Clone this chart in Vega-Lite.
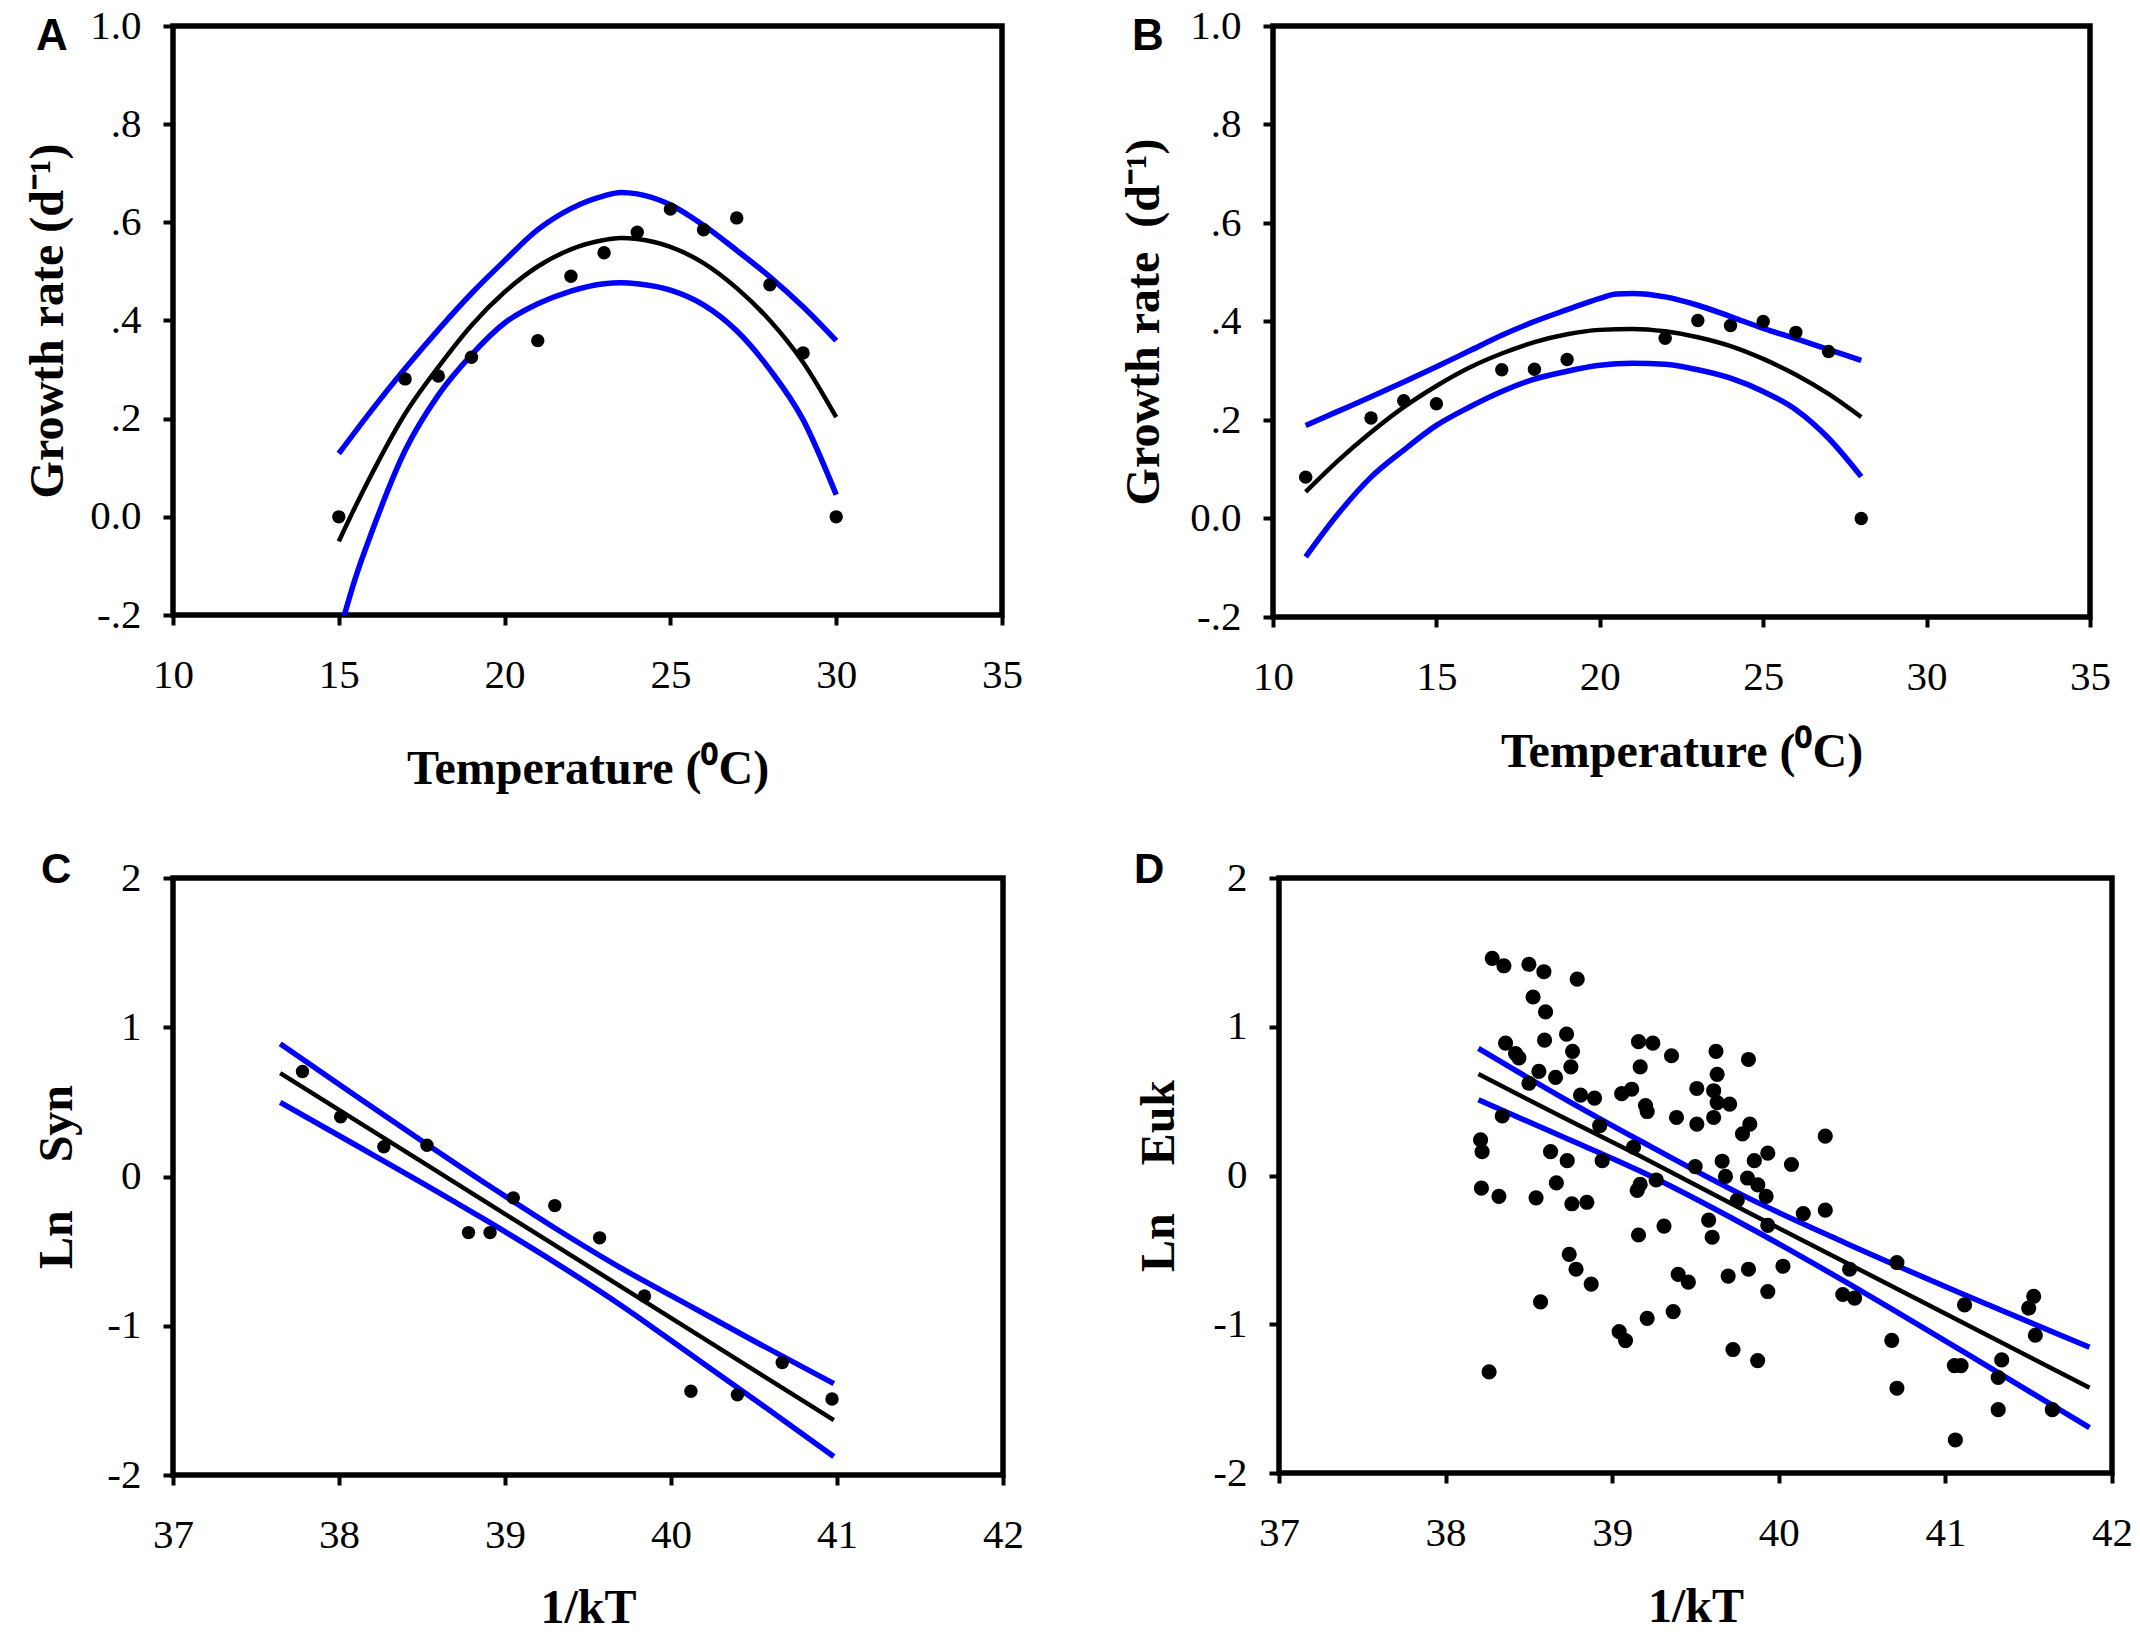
{
  "$schema": "https://vega.github.io/schema/vega-lite/v6.json",
  "background": "white",
  "padding": {"left": 22, "top": 2, "right": 5, "bottom": 0},
  "datasets": {
    "A_pts": [
      {"x": 15, "y": 0}, {"x": 17, "y": 0.281}, {"x": 18, "y": 0.287}, {"x": 19, "y": 0.325},
      {"x": 21, "y": 0.359}, {"x": 22, "y": 0.49}, {"x": 23, "y": 0.538}, {"x": 24, "y": 0.58},
      {"x": 25, "y": 0.627}, {"x": 26, "y": 0.585}, {"x": 27, "y": 0.609}, {"x": 28, "y": 0.473},
      {"x": 29, "y": 0.334}, {"x": 30, "y": 0}
    ],
    "A_fit": [
      {"x": 15, "y": -0.05}, {"x": 15.5, "y": 0.021}, {"x": 16, "y": 0.088}, {"x": 17, "y": 0.21},
      {"x": 18, "y": 0.305}, {"x": 19, "y": 0.39}, {"x": 20, "y": 0.458}, {"x": 21, "y": 0.51},
      {"x": 22, "y": 0.545}, {"x": 23, "y": 0.564}, {"x": 23.5, "y": 0.568}, {"x": 24, "y": 0.566},
      {"x": 25, "y": 0.55}, {"x": 26, "y": 0.517}, {"x": 27, "y": 0.466}, {"x": 28, "y": 0.4},
      {"x": 29, "y": 0.315}, {"x": 30, "y": 0.203}
    ],
    "A_ci": [
      {"x": 15, "y": 0.129, "b": "u"}, {"x": 16, "y": 0.218, "b": "u"}, {"x": 17, "y": 0.302, "b": "u"},
      {"x": 18, "y": 0.381, "b": "u"}, {"x": 19, "y": 0.455, "b": "u"}, {"x": 20, "y": 0.522, "b": "u"},
      {"x": 21, "y": 0.585, "b": "u"}, {"x": 22, "y": 0.628, "b": "u"}, {"x": 23, "y": 0.654, "b": "u"},
      {"x": 23.5, "y": 0.661, "b": "u"}, {"x": 24, "y": 0.658, "b": "u"}, {"x": 25, "y": 0.636, "b": "u"},
      {"x": 26, "y": 0.594, "b": "u"}, {"x": 27, "y": 0.543, "b": "u"}, {"x": 28, "y": 0.489, "b": "u"},
      {"x": 29, "y": 0.428, "b": "u"}, {"x": 30, "y": 0.359, "b": "u"},
      {"x": 15, "y": -0.24, "b": "l"}, {"x": 15.5, "y": -0.125, "b": "l"}, {"x": 16, "y": -0.03, "b": "l"},
      {"x": 17, "y": 0.135, "b": "l"}, {"x": 18, "y": 0.248, "b": "l"}, {"x": 19, "y": 0.33, "b": "l"},
      {"x": 20, "y": 0.395, "b": "l"}, {"x": 21, "y": 0.434, "b": "l"}, {"x": 22, "y": 0.46, "b": "l"},
      {"x": 23, "y": 0.475, "b": "l"}, {"x": 23.5, "y": 0.477, "b": "l"}, {"x": 24, "y": 0.475, "b": "l"},
      {"x": 25, "y": 0.462, "b": "l"}, {"x": 26, "y": 0.432, "b": "l"}, {"x": 27, "y": 0.379, "b": "l"},
      {"x": 28, "y": 0.3, "b": "l"}, {"x": 29, "y": 0.198, "b": "l"}, {"x": 30, "y": 0.045, "b": "l"}
    ],
    "B_pts": [
      {"x": 11, "y": 0.084}, {"x": 13, "y": 0.204}, {"x": 14, "y": 0.239}, {"x": 15, "y": 0.233},
      {"x": 17, "y": 0.302}, {"x": 18, "y": 0.303}, {"x": 19, "y": 0.323}, {"x": 22, "y": 0.366},
      {"x": 23, "y": 0.402}, {"x": 24, "y": 0.392}, {"x": 25, "y": 0.4}, {"x": 26, "y": 0.378},
      {"x": 27, "y": 0.339}, {"x": 28, "y": 0}
    ],
    "B_fit": [
      {"x": 11, "y": 0.054}, {"x": 12, "y": 0.118}, {"x": 13, "y": 0.175}, {"x": 14, "y": 0.226},
      {"x": 15, "y": 0.269}, {"x": 16, "y": 0.306}, {"x": 17, "y": 0.335}, {"x": 18, "y": 0.358},
      {"x": 19, "y": 0.374}, {"x": 20, "y": 0.383}, {"x": 21, "y": 0.385}, {"x": 22, "y": 0.38},
      {"x": 23, "y": 0.368}, {"x": 24, "y": 0.35}, {"x": 25, "y": 0.324}, {"x": 26, "y": 0.292},
      {"x": 27, "y": 0.253}, {"x": 28, "y": 0.206}
    ],
    "B_ci": [
      {"x": 11, "y": 0.189, "b": "u"}, {"x": 12, "y": 0.218, "b": "u"}, {"x": 13, "y": 0.247, "b": "u"},
      {"x": 14, "y": 0.277, "b": "u"}, {"x": 15, "y": 0.308, "b": "u"}, {"x": 16, "y": 0.34, "b": "u"},
      {"x": 17, "y": 0.372, "b": "u"}, {"x": 18, "y": 0.4, "b": "u"}, {"x": 19, "y": 0.424, "b": "u"},
      {"x": 20, "y": 0.447, "b": "u"}, {"x": 20.5, "y": 0.456, "b": "u"}, {"x": 21, "y": 0.457, "b": "u"},
      {"x": 22, "y": 0.45, "b": "u"}, {"x": 23, "y": 0.433, "b": "u"}, {"x": 24, "y": 0.41, "b": "u"},
      {"x": 25, "y": 0.386, "b": "u"}, {"x": 26, "y": 0.365, "b": "u"}, {"x": 27, "y": 0.343, "b": "u"},
      {"x": 28, "y": 0.321, "b": "u"},
      {"x": 11, "y": -0.078, "b": "l"}, {"x": 12, "y": 0.01, "b": "l"}, {"x": 13, "y": 0.084, "b": "l"},
      {"x": 14, "y": 0.139, "b": "l"}, {"x": 15, "y": 0.189, "b": "l"}, {"x": 16, "y": 0.226, "b": "l"},
      {"x": 17, "y": 0.258, "b": "l"}, {"x": 18, "y": 0.283, "b": "l"}, {"x": 19, "y": 0.299, "b": "l"},
      {"x": 20, "y": 0.311, "b": "l"}, {"x": 21, "y": 0.315, "b": "l"}, {"x": 22, "y": 0.313, "b": "l"},
      {"x": 23, "y": 0.302, "b": "l"}, {"x": 24, "y": 0.285, "b": "l"}, {"x": 25, "y": 0.258, "b": "l"},
      {"x": 26, "y": 0.221, "b": "l"}, {"x": 27, "y": 0.163, "b": "l"}, {"x": 28, "y": 0.085, "b": "l"}
    ],
    "C_pts": [
      {"x": 37.78, "y": 0.704}, {"x": 38.01, "y": 0.4}, {"x": 38.27, "y": 0.199}, {"x": 38.53, "y": 0.209},
      {"x": 38.78, "y": -0.376}, {"x": 38.91, "y": -0.376}, {"x": 39.05, "y": -0.143}, {"x": 39.3, "y": -0.195},
      {"x": 39.57, "y": -0.411}, {"x": 39.84, "y": -0.801}, {"x": 40.12, "y": -1.439}, {"x": 40.4, "y": -1.463},
      {"x": 40.67, "y": -1.247}, {"x": 40.97, "y": -1.491}
    ],
    "C_fit": [
      {"x": 37.646, "y": 0.693}, {"x": 38.5, "y": 0.098}, {"x": 39.3, "y": -0.46}, {"x": 40.1, "y": -1.018},
      {"x": 40.981, "y": -1.632}
    ],
    "C_ci": [
      {"x": 37.646, "y": 0.889, "b": "u"}, {"x": 38.1, "y": 0.541, "b": "u"}, {"x": 38.5, "y": 0.238, "b": "u"},
      {"x": 38.9, "y": -0.059, "b": "u"}, {"x": 39.3, "y": -0.345, "b": "u"}, {"x": 39.7, "y": -0.614, "b": "u"},
      {"x": 40.1, "y": -0.858, "b": "u"}, {"x": 40.5, "y": -1.102, "b": "u"}, {"x": 40.981, "y": -1.388, "b": "u"},
      {"x": 37.646, "y": 0.497, "b": "l"}, {"x": 38.1, "y": 0.211, "b": "l"}, {"x": 38.5, "y": -0.042, "b": "l"},
      {"x": 38.9, "y": -0.303, "b": "l"}, {"x": 39.3, "y": -0.575, "b": "l"}, {"x": 39.7, "y": -0.864, "b": "l"},
      {"x": 40.1, "y": -1.178, "b": "l"}, {"x": 40.5, "y": -1.492, "b": "l"}, {"x": 40.981, "y": -1.876, "b": "l"}
    ],
    "D_pts": [
      {"x": 38.28, "y": 1.46}, {"x": 38.35, "y": 1.41}, {"x": 38.5, "y": 1.42}, {"x": 38.59, "y": 1.37},
      {"x": 38.79, "y": 1.32}, {"x": 38.525, "y": 1.2}, {"x": 38.6, "y": 1.1}, {"x": 38.36, "y": 0.89},
      {"x": 38.42, "y": 0.82}, {"x": 38.44, "y": 0.79}, {"x": 38.594, "y": 0.91}, {"x": 38.726, "y": 0.95},
      {"x": 38.762, "y": 0.835}, {"x": 38.752, "y": 0.73}, {"x": 38.66, "y": 0.66}, {"x": 38.56, "y": 0.7},
      {"x": 38.5, "y": 0.62}, {"x": 38.34, "y": 0.4}, {"x": 38.81, "y": 0.54}, {"x": 38.894, "y": 0.52},
      {"x": 38.925, "y": 0.335}, {"x": 39.057, "y": 0.55}, {"x": 39.117, "y": 0.58}, {"x": 39.158, "y": 0.9},
      {"x": 39.168, "y": 0.73}, {"x": 39.2, "y": 0.47}, {"x": 39.21, "y": 0.43}, {"x": 39.128, "y": 0.19},
      {"x": 38.21, "y": 0.24}, {"x": 38.219, "y": 0.16}, {"x": 38.63, "y": 0.16}, {"x": 38.73, "y": 0.1},
      {"x": 38.94, "y": 0.1}, {"x": 38.215, "y": -0.085}, {"x": 38.32, "y": -0.14}, {"x": 38.665, "y": -0.05},
      {"x": 38.543, "y": -0.15}, {"x": 38.758, "y": -0.19}, {"x": 38.848, "y": -0.18}, {"x": 39.168, "y": -0.06},
      {"x": 39.15, "y": -0.1}, {"x": 39.264, "y": -0.03}, {"x": 39.158, "y": -0.4}, {"x": 38.742, "y": -0.53},
      {"x": 38.783, "y": -0.63}, {"x": 38.874, "y": -0.73}, {"x": 38.57, "y": -0.85}, {"x": 39.21, "y": -0.96},
      {"x": 39.042, "y": -1.05}, {"x": 39.08, "y": -1.11}, {"x": 38.261, "y": -1.32}, {"x": 39.244, "y": 0.89},
      {"x": 39.356, "y": 0.805}, {"x": 39.623, "y": 0.835}, {"x": 39.818, "y": 0.78}, {"x": 39.63, "y": 0.68},
      {"x": 39.508, "y": 0.585}, {"x": 39.609, "y": 0.57}, {"x": 39.63, "y": 0.49}, {"x": 39.705, "y": 0.48},
      {"x": 39.386, "y": 0.39}, {"x": 39.508, "y": 0.345}, {"x": 39.609, "y": 0.39}, {"x": 39.782, "y": 0.28},
      {"x": 39.826, "y": 0.345}, {"x": 40.279, "y": 0.265}, {"x": 39.934, "y": 0.15}, {"x": 39.853, "y": 0.1},
      {"x": 40.076, "y": 0.074}, {"x": 39.66, "y": 0.096}, {"x": 39.498, "y": 0.06}, {"x": 39.68, "y": -0.006},
      {"x": 39.812, "y": -0.017}, {"x": 39.874, "y": -0.063}, {"x": 39.924, "y": -0.14}, {"x": 39.751, "y": -0.165},
      {"x": 40.147, "y": -0.256}, {"x": 40.279, "y": -0.233}, {"x": 39.934, "y": -0.335}, {"x": 39.579, "y": -0.3},
      {"x": 39.6, "y": -0.415}, {"x": 39.311, "y": -0.34}, {"x": 39.396, "y": -0.665}, {"x": 39.457, "y": -0.717},
      {"x": 39.696, "y": -0.676}, {"x": 39.818, "y": -0.63}, {"x": 40.025, "y": -0.61}, {"x": 39.934, "y": -0.78},
      {"x": 39.366, "y": -0.915}, {"x": 39.725, "y": -1.17}, {"x": 39.873, "y": -1.244}, {"x": 40.425, "y": -0.63},
      {"x": 40.709, "y": -0.585}, {"x": 40.384, "y": -0.8}, {"x": 40.455, "y": -0.824}, {"x": 40.678, "y": -1.108},
      {"x": 40.709, "y": -1.43}, {"x": 41.115, "y": -0.87}, {"x": 41.054, "y": -1.278}, {"x": 41.094, "y": -1.278},
      {"x": 41.06, "y": -1.778}, {"x": 41.317, "y": -1.574}, {"x": 41.53, "y": -0.812}, {"x": 41.5, "y": -0.892},
      {"x": 41.54, "y": -1.074}, {"x": 41.338, "y": -1.24}, {"x": 41.317, "y": -1.358}, {"x": 41.642, "y": -1.574}
    ],
    "D_fit": [
      {"x": 38.197, "y": 0.682}, {"x": 38.7, "y": 0.393}, {"x": 39.17, "y": 0.13}, {"x": 39.8, "y": -0.239},
      {"x": 40.39, "y": -0.578}, {"x": 41.1, "y": -0.987}, {"x": 41.865, "y": -1.427}
    ],
    "D_ci": [
      {"x": 38.197, "y": 0.855, "b": "u"}, {"x": 38.7, "y": 0.524, "b": "u"}, {"x": 39.17, "y": 0.232, "b": "u"},
      {"x": 39.8, "y": -0.142, "b": "u"}, {"x": 40.39, "y": -0.448, "b": "u"}, {"x": 41.1, "y": -0.795, "b": "u"},
      {"x": 41.865, "y": -1.155, "b": "u"},
      {"x": 38.197, "y": 0.509, "b": "l"}, {"x": 38.7, "y": 0.262, "b": "l"}, {"x": 39.17, "y": 0.028, "b": "l"},
      {"x": 39.8, "y": -0.336, "b": "l"}, {"x": 40.39, "y": -0.708, "b": "l"}, {"x": 41.1, "y": -1.179, "b": "l"},
      {"x": 41.865, "y": -1.695, "b": "l"}
    ]
  },
  "config": {
    "view": {"stroke": "black", "strokeWidth": 5.5},
    "axis": {
      "domain": false, "grid": false, "ticks": true, "tickColor": "black", "tickWidth": 4, "tickSize": 10,
      "labelFont": "Liberation Serif", "labelFontSize": 41, "labelColor": "black",
      "labelFlush": false, "labelOverlap": false,
      "titleFont": "Liberation Serif", "titleFontSize": 48, "titleFontWeight": "bold", "titleColor": "black"
    },
    "axisX": {"labelPadding": 30, "format": "d"},
    "axisY": {"labelPadding": 22},
    "title": {"font": "Liberation Sans", "fontWeight": "bold", "color": "black", "anchor": "start", "frame": "group", "orient": "top", "offset": 0, "baseline": "top"}
  },
  "concat": [
    {
      "hconcat": [
        {
          "width": 829, "height": 589,
          "title": {"text": "A", "fontSize": 44, "dx": -137, "dy": 58},
          "layer": [
            {
              "data": {"name": "A_ci"},
              "mark": {"type": "line", "clip": true, "color": "#0000ff", "strokeWidth": 5.5, "interpolate": "monotone"},
              "encoding": {
                "x": {"field": "x", "type": "quantitative", "scale": {"domain": [10, 35], "nice": false},
                      "axis": {"values": [10, 15, 20, 25, 30, 35], "title": "Temperature (\u2070C)", "titlePadding": 50}},
                "y": {"field": "y", "type": "quantitative", "scale": {"domain": [-0.2, 1.0], "nice": false, "zero": false},
                      "axis": {"values": [-0.2, 0, 0.2, 0.4, 0.6, 0.8, 1.0], "title": "Growth rate (d\u207b\u00b9)", "titlePadding": 17,
                               "labelExpr": "abs(datum.value) < 1e-9 ? '0.0' : abs(datum.value - 1) < 1e-9 ? '1.0' : (datum.value < 0 ? '-' : '') + '.' + round(abs(datum.value) * 10)"}},
                "detail": {"field": "b", "type": "nominal"}
              }
            },
            {
              "data": {"name": "A_fit"},
              "mark": {"type": "line", "clip": true, "color": "black", "strokeWidth": 4.5, "interpolate": "monotone"},
              "encoding": {"x": {"field": "x", "type": "quantitative"}, "y": {"field": "y", "type": "quantitative"}}
            },
            {
              "data": {"name": "A_pts"},
              "mark": {"type": "circle", "color": "black", "size": 180, "opacity": 1},
              "encoding": {"x": {"field": "x", "type": "quantitative"}, "y": {"field": "y", "type": "quantitative"}}
            }
          ]
        },
        {
          "width": 817, "height": 591,
          "title": {"text": "B", "fontSize": 44, "dx": -141, "dy": 58},
          "layer": [
            {
              "data": {"name": "B_ci"},
              "mark": {"type": "line", "clip": true, "color": "#0000ff", "strokeWidth": 5.5, "interpolate": "monotone"},
              "encoding": {
                "x": {"field": "x", "type": "quantitative", "scale": {"domain": [10, 35], "nice": false},
                      "axis": {"values": [10, 15, 20, 25, 30, 35], "title": "Temperature (\u2070C)", "titlePadding": 31}},
                "y": {"field": "y", "type": "quantitative", "scale": {"domain": [-0.2, 1.0], "nice": false, "zero": false},
                      "axis": {"values": [-0.2, 0, 0.2, 0.4, 0.6, 0.8, 1.0], "title": "Growth rate\u00a0\u00a0(d\u207b\u00b9)", "titlePadding": 21,
                               "labelExpr": "abs(datum.value) < 1e-9 ? '0.0' : abs(datum.value - 1) < 1e-9 ? '1.0' : (datum.value < 0 ? '-' : '') + '.' + round(abs(datum.value) * 10)"}},
                "detail": {"field": "b", "type": "nominal"}
              }
            },
            {
              "data": {"name": "B_fit"},
              "mark": {"type": "line", "clip": true, "color": "black", "strokeWidth": 4.5, "interpolate": "monotone"},
              "encoding": {"x": {"field": "x", "type": "quantitative"}, "y": {"field": "y", "type": "quantitative"}}
            },
            {
              "data": {"name": "B_pts"},
              "mark": {"type": "circle", "color": "black", "size": 180, "opacity": 1},
              "encoding": {"x": {"field": "x", "type": "quantitative"}, "y": {"field": "y", "type": "quantitative"}}
            }
          ]
        }
      ],
      "spacing": 92
    },
    {
      "hconcat": [
        {
          "width": 830, "height": 597,
          "title": {"text": "C", "fontSize": 42, "dx": -132, "dy": 39},
          "layer": [
            {
              "data": {"name": "C_ci"},
              "mark": {"type": "line", "clip": true, "color": "#0000ff", "strokeWidth": 5.5, "interpolate": "monotone"},
              "encoding": {
                "x": {"field": "x", "type": "quantitative", "scale": {"domain": [37, 42], "nice": false, "zero": false},
                      "axis": {"values": [37, 38, 39, 40, 41, 42], "title": "1/kT", "titlePadding": 29}},
                "y": {"field": "y", "type": "quantitative", "scale": {"domain": [-2, 2], "nice": false},
                      "axis": {"values": [-2, -1, 0, 1, 2], "title": "Ln\u00a0\u00a0\u00a0\u00a0Syn", "titlePadding": 25,
                               "labelExpr": "'' + datum.value"}},
                "detail": {"field": "b", "type": "nominal"}
              }
            },
            {
              "data": {"name": "C_fit"},
              "mark": {"type": "line", "clip": true, "color": "black", "strokeWidth": 4.5},
              "encoding": {"x": {"field": "x", "type": "quantitative"}, "y": {"field": "y", "type": "quantitative"}}
            },
            {
              "data": {"name": "C_pts"},
              "mark": {"type": "circle", "color": "black", "size": 180, "opacity": 1},
              "encoding": {"x": {"field": "x", "type": "quantitative"}, "y": {"field": "y", "type": "quantitative"}}
            }
          ]
        },
        {
          "width": 833, "height": 595,
          "title": {"text": "D", "fontSize": 42, "dx": -145, "dy": 39},
          "layer": [
            {
              "data": {"name": "D_ci"},
              "mark": {"type": "line", "clip": true, "color": "#0000ff", "strokeWidth": 5.5, "interpolate": "monotone"},
              "encoding": {
                "x": {"field": "x", "type": "quantitative", "scale": {"domain": [37, 42], "nice": false, "zero": false},
                      "axis": {"values": [37, 38, 39, 40, 41, 42], "title": "1/kT", "titlePadding": 30}},
                "y": {"field": "y", "type": "quantitative", "scale": {"domain": [-2, 2], "nice": false},
                      "axis": {"values": [-2, -1, 0, 1, 2], "title": "Ln\u00a0\u00a0\u00a0\u00a0Euk", "titlePadding": 29,
                               "labelExpr": "'' + datum.value"}},
                "detail": {"field": "b", "type": "nominal"}
              }
            },
            {
              "data": {"name": "D_fit"},
              "mark": {"type": "line", "clip": true, "color": "black", "strokeWidth": 4.5},
              "encoding": {"x": {"field": "x", "type": "quantitative"}, "y": {"field": "y", "type": "quantitative"}}
            },
            {
              "data": {"name": "D_pts"},
              "mark": {"type": "circle", "color": "black", "size": 230, "opacity": 1},
              "encoding": {"x": {"field": "x", "type": "quantitative"}, "y": {"field": "y", "type": "quantitative"}}
            }
          ]
        }
      ],
      "spacing": 104
    }
  ],
  "columns": 1,
  "align": "none",
  "spacing": 50
}
